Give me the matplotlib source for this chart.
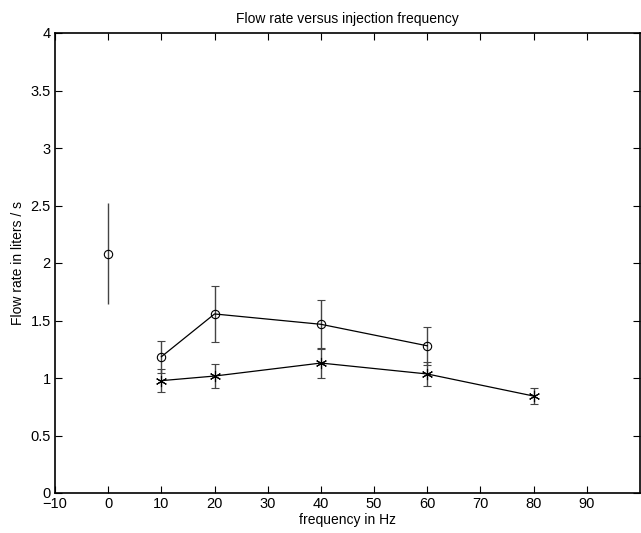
import matplotlib
matplotlib.use("Agg")
import matplotlib.pyplot as plt
from matplotlib.ticker import FuncFormatter

plt.rcParams['font.family'] = ['Liberation Sans', 'DejaVu Sans']

# Data
freq_circle0 = [0]
flow_circle0 = [2.08]
err_circle0 = [0.44]

freq_circle = [10, 20, 40, 60]
flow_circle = [1.185, 1.557, 1.467, 1.28]
err_circle = [0.14, 0.245, 0.213, 0.165]

freq_star = [10, 20, 40, 60, 80]
flow_star = [0.977, 1.017, 1.130, 1.035, 0.843]
err_star = [0.10, 0.103, 0.127, 0.105, 0.07]

xticks = [-10, 0, 10, 20, 30, 40, 50, 60, 70, 80, 90]
yticks = [0, 0.5, 1, 1.5, 2, 2.5, 3, 3.5, 4]

fig = plt.figure(figsize=(6.41, 5.33), dpi=100)
ax = fig.add_axes([55/641, 40/533, 585/641, 460/533])

asterisk = (6, 2, 0)
ekw = dict(ecolor='#444444', elinewidth=1.0, capthick=1.0)

ax.errorbar(freq_circle0, flow_circle0, yerr=err_circle0, fmt='o', color='black',
            mfc='none', ms=6, mew=0.8, capsize=0, **ekw)
ax.errorbar(freq_circle, flow_circle, yerr=err_circle, fmt='-o', color='black',
            mfc='none', ms=6, mew=0.8, lw=0.9, capsize=3, **ekw)
ax.errorbar(freq_star, flow_star, yerr=err_star, fmt='-', marker=asterisk, color='black',
            ms=8, mew=0.8, lw=0.9, capsize=3, **ekw)

ax.set_xlim(-10, 100)
ax.set_ylim(0, 4)
ax.set_xticks(xticks)
ax.set_yticks(yticks)
fmt = FuncFormatter(lambda v, p: ('%g' % v).replace('-', '\u2212'))
ax.xaxis.set_major_formatter(fmt)
ax.yaxis.set_major_formatter(fmt)
ax.tick_params(direction='in', top=True, right=True, length=5, width=0.8, labelsize=10.5, pad=3)
for s in ax.spines.values():
    s.set_linewidth(1.2)

ax.set_title('Flow rate versus injection frequency', fontsize=10, pad=7)
ax.set_xlabel('frequency in Hz', fontsize=10, labelpad=1)
ax.set_ylabel('Flow rate in liters / s', fontsize=10, labelpad=4)

fig.savefig('out.png', dpi=100)
